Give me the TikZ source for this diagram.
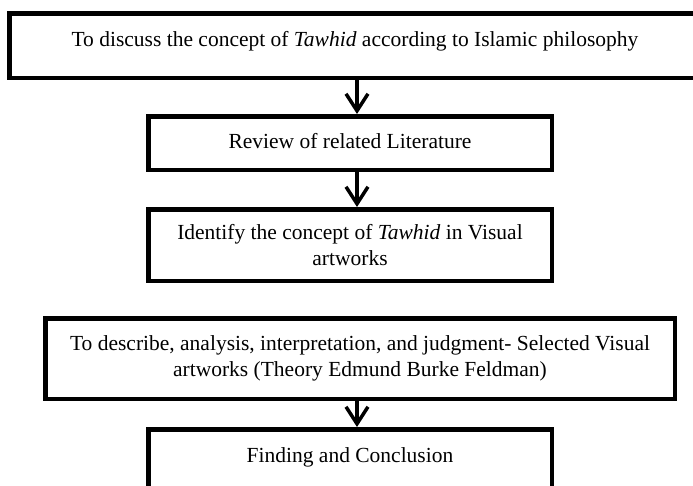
\documentclass[tikz,border=0pt]{standalone}
\usepackage{fontspec}
\setmainfont{Liberation Serif}
\usetikzlibrary{arrows.meta}
\begin{document}
\begin{tikzpicture}[x=1pt,y=-1pt,
box/.style={draw,line width=4.5pt,inner sep=0pt,align=center,font=\fontsize{21.5}{26}\selectfont},
oneline/.style={text height=15pt,text depth=5pt},
arr/.style={line width=3.5pt,-{Straight Barb[length=17pt,width=22pt]}}]
\useasboundingbox (0,0) rectangle (693,485);
\coordinate (ax) at (357,0);
\node[box,oneline,text depth=14pt,minimum width=691.5pt,minimum height=64.5pt] (aim) at (355,45.5) {To discuss the concept of \emph{Tawhid} according to Islamic philosophy};
\node[box,oneline,minimum width=403.5pt,minimum height=53.5pt] (review) at (350,143) {Review of related Literature};
\node[box,minimum width=403.5pt,minimum height=71.5pt] (identify) at (350,245) {Identify the concept of \emph{Tawhid} in Visual\\artworks};
\node[box,minimum width=629.5pt,minimum height=80.5pt] (feldman) at (360,358.5) {To describe, analysis, interpretation, and judgment- Selected Visual\\artworks (Theory Edmund Burke Feldman)};
\node[box,oneline,text depth=9.5pt,minimum width=403.5pt,minimum height=60pt] (finding) at (350,459.25) {Finding and Conclusion};
\draw[arr] (aim.south -| ax)--(review.north -| ax);
\draw[arr] (review.south -| ax)--(identify.north -| ax);
\draw[arr] (feldman.south -| ax)--(finding.north -| ax);
\end{tikzpicture}
\end{document}
